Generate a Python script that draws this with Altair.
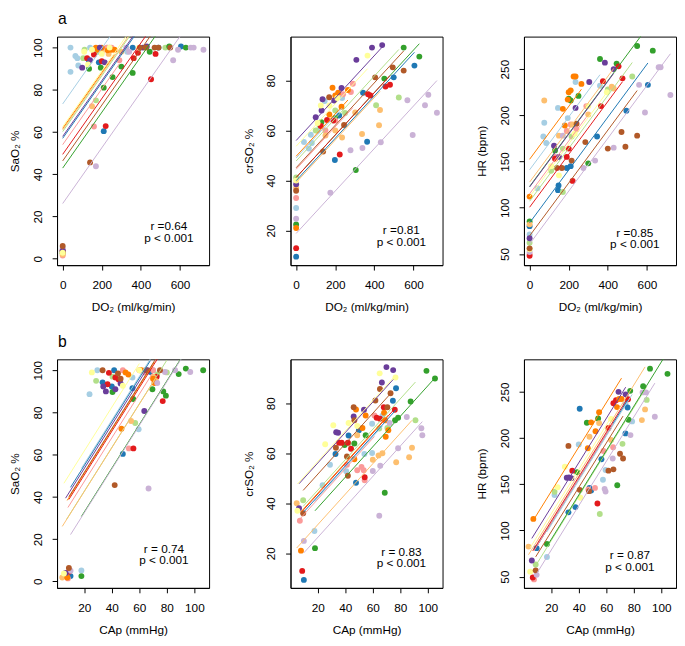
import altair as alt
import pandas as pd

SUBJECTS = [f"P{i+1}" for i in range(12)]
PALETTE = ["#a6cee3", "#1f78b4", "#b2df8a", "#33a02c", "#fb9a99", "#e31a1c",
           "#fdbf6f", "#ff7f00", "#cab2d6", "#6a3d9a", "#ffff99", "#b15928"]

FONT = "Liberation Sans"

# ---------------- data: subject index -> list of (x, y) ----------------
A1_PTS = {
    0: [(0, 5.2), (40, 100), (40, 88.5), (65, 96), (75, 95), (80, 91.5), (140, 100), (160, 99), (330, 98)],
    1: [(0, 3.5), (135, 93.5), (185, 93), (210, 60.4), (358, 100), (395, 100), (490, 100), (605, 100.5)],
    2: [(0, 3), (105, 95), (112, 99), (170, 75), (180, 98), (230, 100), (525, 100), (545, 100)],
    3: [(0, 2.5), (135, 90), (195, 90.5), (210, 81), (255, 86), (300, 91), (358, 88), (445, 98), (545, 100.5), (630, 100)],
    4: [(0, 1.5), (160, 62.6), (195, 99), (225, 100), (240, 100), (250, 100), (290, 94)],
    5: [(0, 4), (125, 95), (160, 96.7), (200, 93.5), (220, 62.8), (363, 95), (385, 97.5), (452, 85), (475, 97)],
    6: [(0, 2), (150, 72.2), (200, 98), (235, 97), (300, 98), (420, 100)],
    7: [(0, 3.2), (170, 100), (180, 99), (200, 100), (230, 98.7), (250, 99), (265, 99)],
    8: [(0, 4.5), (170, 43.8), (325, 100), (340, 98), (565, 94), (590, 99), (655, 100), (670, 100), (720, 99)],
    9: [(0, 3.8), (100, 90.5), (140, 94), (190, 100), (215, 93), (410, 100), (430, 100.5)],
    10: [(0, 2.8), (110, 98), (130, 92), (150, 99), (200, 97), (240, 100), (390, 100)],
    11: [(0, 6), (140, 45.6), (395, 100), (425, 100), (470, 100), (490, 100), (550, 100)],
}
A2_PTS = {
    0: [(0, 29), (40, 55.4), (65, 52.8), (75, 58.3), (80, 55), (110, 60), (146, 71.8), (235, 73)],
    1: [(0, 9.5), (198, 48.2), (220, 66), (342, 75.1), (363, 55.5), (499, 81.3), (605, 86)],
    2: [(0, 41.2), (100, 60), (120, 62), (200, 68), (250, 67), (409, 70.1), (525, 73.2)],
    3: [(0, 22.4), (129, 63.3), (200, 65), (305, 44.2), (451, 80.8), (550, 93.2), (630, 89.6)],
    4: [(0, 33), (150, 60), (200, 64), (240, 74.5), (280, 75.4), (290, 78.7)],
    5: [(0, 12.9), (126, 61.8), (158, 64.2), (190, 64), (223, 50.4), (368, 74.5), (380, 74), (457, 77.6), (480, 78.3)],
    6: [(0, 37), (150, 58), (200, 60), (235, 57.2), (302, 67.2), (337, 58.6), (424, 62.1), (429, 68.2)],
    7: [(0, 21), (170, 66.4), (186, 77.1), (200, 74), (215, 75.1), (232, 69.5), (265, 76.2)],
    8: [(0, 24.7), (175, 35.1), (278, 52.1), (339, 53), (433, 55.3), (569, 72.1), (596, 58.2), (659, 70.1), (676, 74.3), (720, 67.1)],
    9: [(0, 38.5), (100, 65.3), (130, 68), (135, 72.5), (195, 72), (232, 77), (308, 88.3), (388, 93.2), (440, 94.2)],
    10: [(0, 40), (110, 63), (126, 70), (170, 70), (210, 73), (365, 90)],
    11: [(0, 35.9), (138, 51.6), (169, 73.3), (245, 62.2), (404, 81.3), (494, 85.3), (550, 84)],
}
A3_PTS = {
    0: [(0, 71), (40, 121), (70, 177), (75, 192), (85, 170), (145, 208), (195, 197), (235, 236), (360, 232)],
    1: [(0, 80), (145, 119), (148, 124), (190, 143), (210, 145), (345, 177), (495, 205), (605, 233)],
    2: [(0, 62), (110, 140), (170, 117), (170, 164), (215, 177), (400, 228), (525, 242)],
    3: [(0, 85), (130, 162), (200, 218), (210, 216), (250, 221), (300, 148), (360, 261), (445, 256), (550, 275), (630, 270)],
    4: [(0, 50), (130, 155), (190, 183), (210, 190), (240, 185), (290, 210)],
    5: [(0, 48), (130, 153), (190, 155), (200, 164), (220, 129), (365, 210), (375, 237), (455, 253), (475, 240)],
    6: [(0, 82), (75, 216), (150, 178), (220, 190), (300, 201), (420, 231), (430, 229)],
    7: [(0, 112), (170, 207), (180, 189), (195, 217), (200, 225), (210, 227), (225, 242), (235, 242), (265, 234)],
    8: [(0, 52), (170, 178), (275, 143), (335, 151), (430, 165), (560, 233), (590, 203), (660, 252), (670, 252), (720, 222)],
    9: [(0, 67), (125, 167), (150, 155), (235, 208), (305, 236), (385, 257), (430, 250)],
    10: [(0, 55), (110, 145), (150, 135), (230, 180), (300, 210), (395, 225)],
    11: [(0, 56), (140, 143), (165, 143), (215, 151), (240, 191), (285, 171), (400, 164), (470, 182), (490, 166), (550, 178)],
}
B1_PTS = {
    0: [(17.9, 5.2), (23.8, 88.7), (29.5, 100), (55, 96.6), (59.5, 72.1), (70, 100)],
    1: [(10, 2.5), (33.3, 94.3), (40, 92.3), (41.7, 100), (48, 60.4), (55, 91.5), (68, 99.2)],
    2: [(7, 3), (28.6, 95), (40.5, 97), (57, 75), (73, 98), (80, 99)],
    3: [(17.9, 2.5), (40.5, 89.7), (55.5, 86.4), (69.5, 91), (77.4, 90), (79.3, 88), (88.6, 98.2), (93.8, 100.8), (106.4, 100)],
    4: [(8.1, 1.4), (48, 100), (52.4, 63), (60, 100), (64, 99), (70, 100)],
    5: [(8.8, 4.5), (36.9, 93.4), (37.9, 98.8), (42.6, 96.6), (45, 95.7), (55.7, 63), (72.6, 97), (77, 85.4)],
    6: [(4, 1.8), (54, 76), (62, 100), (70, 97), (72, 95)],
    7: [(7.6, 1.8), (47, 72.3), (50, 99), (52, 98), (61, 100), (70, 96), (71, 94)],
    8: [(10, 5), (66.7, 44), (73, 94), (78.6, 99.2), (86, 100), (97, 99.2)],
    9: [(6.4, 4), (33.8, 92.3), (35.7, 90), (42.6, 91), (46.4, 93.8), (63.6, 80.7), (66, 100)],
    10: [(5.2, 3.7), (25.5, 99), (48, 92.7), (60, 100)],
    11: [(8.8, 6.3), (33.3, 100), (42.1, 45.6), (44.5, 98.5), (46.4, 96), (65, 100), (75, 100)],
}
B2_PTS = {
    0: [(17.6, 28.9), (23.5, 47.2), (28.9, 55.4), (40.7, 52.8), (53.9, 59.7), (59.5, 60.1), (59.5, 71.8), (67, 75)],
    1: [(9.9, 9.3), (32.9, 59.7), (42.4, 67.1), (47.8, 48.2), (49.9, 69.2), (74.6, 81), (76.9, 86)],
    2: [(9.4, 41.2), (42.4, 63.9), (64.7, 69.9), (70.6, 70.1), (91, 73.2)],
    3: [(18, 22), (39.5, 63.3), (46.6, 63.9), (54.8, 67.2), (68.7, 44.2), (76.2, 73.2), (78.4, 74.2), (87.5, 80.7), (99, 93), (105.2, 89.9)],
    4: [(7, 33), (41.2, 55.4), (48.7, 53.2), (51.8, 54.5), (53.4, 53.2), (54.1, 49.2), (61.2, 75.1)],
    5: [(8.7, 12.9), (35.5, 64.2), (37.4, 64.2), (41.9, 64.2), (44.2, 61.8), (54.1, 50.4), (62.8, 74.2), (65.2, 73.8), (68, 78.4), (76, 77.4)],
    6: [(4.7, 40), (48.7, 67.2), (60, 57.4), (64.2, 59.1), (67, 60), (77, 56.4), (86.4, 58.4), (88.5, 62.2)],
    7: [(7.8, 21), (46.6, 57.6), (47.8, 77.5), (52.5, 70.1), (54.8, 75.1), (68.2, 76.2), (69, 73.2), (69.4, 66.6), (71.3, 69.2)],
    8: [(9.9, 24.9), (60, 52.9), (64.7, 35), (65.4, 55), (72.2, 72.1), (78.4, 62), (84.7, 74.5), (95.3, 70), (96, 67.2)],
    9: [(6.4, 38), (33.4, 68.4), (34.8, 68.2), (46.1, 74.7), (53.6, 77.4), (66.6, 88.3), (69.9, 94.5), (74.8, 93.3)],
    10: [(5.2, 37), (25.4, 63.6), (31.3, 71.2), (42.4, 72.1), (48.7, 70.9), (65, 92), (76.5, 90.3)],
    11: [(9.4, 36), (33.2, 62.2), (41.2, 58.7), (41.9, 51), (46.1, 78.4), (46.6, 73.2), (61.9, 81.1), (65.2, 85.7), (70.6, 78.4), (72.9, 84)],
}
B3_PTS = {
    0: [(16.9, 71.3), (22.4, 138.3), (40, 193), (57.6, 154.9), (59.5, 165.4), (74, 237), (78.8, 218)],
    1: [(9.4, 80.8), (32.5, 119.6), (37.6, 125.2), (40.7, 231.7), (47.8, 146), (49, 143.2), (56.5, 177), (74, 205), (75.5, 233)],
    2: [(8.7, 63.1), (22.4, 141.8), (55.3, 117.8), (71.8, 193.7), (89.4, 241.3)],
    3: [(16.9, 85.4), (38.8, 163), (45.9, 216.6), (54.1, 221.2), (68, 148.9), (76.2, 219.8), (77.4, 251.1), (86.8, 256.1), (91.8, 275.1), (104.5, 269.5)],
    4: [(7.5, 47), (47, 144.3), (51.8, 146), (58, 186), (65, 190)],
    5: [(6.6, 49), (35.3, 164.7), (53.6, 129.1), (61.6, 211), (65.2, 237.7), (67.1, 240.9), (75.8, 242)],
    6: [(3.5, 82.5), (47.8, 201.4), (54.8, 216.2), (63.5, 198), (85.9, 219.4), (88.2, 231)],
    7: [(7, 112.5), (46.6, 189), (49, 217), (52.2, 207.4), (54.8, 227.9), (67.8, 233.5), (69.4, 242.3), (71.1, 242.3)],
    8: [(9.4, 51.9), (58.8, 145), (59.5, 142.2), (64.7, 177.8), (77.6, 203.2), (86.4, 249.4), (88.9, 249.4), (95.3, 223)],
    9: [(5.9, 67.4), (31.3, 157), (32.9, 157.3), (34.6, 156.6), (68.9, 250), (74.1, 247.3)],
    10: [(4.7, 55.4), (24.7, 146.7), (29.9, 169), (41.2, 135.4), (63.5, 220.8)],
    11: [(8.7, 56.8), (32.5, 191.5), (40.7, 143.9), (47.5, 142.5), (61.6, 164.7), (65.2, 166.1), (70, 183), (72.2, 177.8)],
}

# per-subject intercepts and common slope of the fitted lines
A1_ICPT = [73.3, 57, 60.2, 42.9, 54, 49.4, 61, 61.7, 26.1, 57.9, 62.5, 46.3]
A1_SLOPE = 0.132
A2_ICPT = [49, 39.9, 47.8, 41.2, 44.5, 41.2, 39.2, 49.7, 18.8, 56, 53.7, 45.1]
A2_SLOPE = 0.085
A3_ICPT = [141, 83.6, 107, 123, 115, 100.5, 127.7, 152.4, 60.7, 122.4, 111.8, 69.5]
A3_SLOPE = 0.286
B1_ICPT = [35, 34.2, 22, 12.2, 26.6, 29.7, 21.9, 30.5, 11.8, 32.8, 41.1, 31]
B1_SLOPE = 1.035
B2_ICPT = [30, 30.5, 33, 26, 29.4, 31.5, 19.2, 31.8, 14.1, 43.9, 44.5, 39.4]
B2_SLOPE = 0.61
B3_ICPT = [58, 60, 41, 42.3, 60, 62, 65.3, 94.2, 30.7, 77.2, 70, 50.5]
B3_SLOPE = 2.4

DO2_TICKS = [0, 200, 400, 600]
CAP_TICKS = [20, 40, 60, 80, 100]
SAO2_TICKS = [0, 20, 40, 60, 80, 100]
CRSO2_TICKS = [20, 40, 60, 80]
HR_TICKS = [50, 100, 150, 200, 250]

DO2_DOM = [-28.8, 748.8]
CAP_DOM = [0.2, 110.7]
SAO2_DOM = [-3.1, 105.2]
CRSO2_DOM = [6.1, 97.6]
HR_DOM = [37.8, 285.2]

W, H = 155, 233


def panel(pts, icpt, slope, xdom, ydom, xticks, yticks, xtitle, ytitle,
          stats, stat_pos, label=None):
    rows = []
    lines = []
    for si, lst in pts.items():
        for x, y in lst:
            rows.append({"subject": SUBJECTS[si], "x": x, "y": y})
        xs = [p[0] for p in lst]
        for xv in (min(xs), max(xs)):
            lines.append({"subject": SUBJECTS[si], "x": xv, "y": icpt[si] + slope * xv})
    df = pd.DataFrame(rows)
    ldf = pd.DataFrame(lines)

    color = alt.Color("subject:N", scale=alt.Scale(domain=SUBJECTS, range=PALETTE), legend=None)
    xenc = alt.X("x:Q", scale=alt.Scale(domain=xdom, nice=False, zero=False),
                 axis=alt.Axis(values=xticks, title=xtitle, labelPadding=10, titlePadding=11))
    yenc = alt.Y("y:Q", scale=alt.Scale(domain=ydom, nice=False, zero=False),
                 axis=alt.Axis(values=yticks, title=ytitle, labelAngle=270, labelAlign="center",
                               labelBaseline="bottom", labelPadding=8, titlePadding=10))

    points = alt.Chart(df).mark_circle(size=36, opacity=1).encode(x=xenc, y=yenc, color=color)
    regl = alt.Chart(ldf).mark_line(strokeWidth=1, clip=True).encode(
        x=xenc, y=yenc, color=color, detail="subject:N")
    txt = alt.Chart(pd.DataFrame({"k": [0]})).mark_text(
        text=stats, font=FONT, fontSize=12, align="center", baseline="top", lineHeight=12,
        color="black").encode(x=alt.value(stat_pos[0]), y=alt.value(stat_pos[1]))
    layers = [points, regl, txt]
    if label:
        lab = alt.Chart(pd.DataFrame({"k": [0]})).mark_text(
            text=label, font=FONT, fontSize=16, align="left", baseline="alphabetic",
            color="black").encode(x=alt.value(1), y=alt.value(-13))
        layers.append(lab)
    return alt.layer(*layers).properties(width=W, height=H)


a1 = panel(A1_PTS, A1_ICPT, A1_SLOPE, DO2_DOM, SAO2_DOM, DO2_TICKS, SAO2_TICKS,
           "DO₂ (ml/kg/min)", "SaO₂ %", ["r =0.64", "p < 0.001"], (114, 188), label="a")
a2 = panel(A2_PTS, A2_ICPT, A2_SLOPE, DO2_DOM, CRSO2_DOM, DO2_TICKS, CRSO2_TICKS,
           "DO₂ (ml/kg/min)", "crSO₂ %", ["r =0.81", "p < 0.001"], (113, 192))
a3 = panel(A3_PTS, A3_ICPT, A3_SLOPE, DO2_DOM, HR_DOM, DO2_TICKS, HR_TICKS,
           "DO₂ (ml/kg/min)", "HR (bpm)", ["r =0.85", "p < 0.001"], (113, 195))
b1 = panel(B1_PTS, B1_ICPT, B1_SLOPE, CAP_DOM, SAO2_DOM, CAP_TICKS, SAO2_TICKS,
           "CAp (mmHg)", "SaO₂ %", ["r = 0.74", "p < 0.001"], (109, 188), label="b")
b2 = panel(B2_PTS, B2_ICPT, B2_SLOPE, CAP_DOM, CRSO2_DOM, CAP_TICKS, CRSO2_TICKS,
           "CAp (mmHg)", "crSO₂ %", ["r = 0.83", "p < 0.001"], (113, 191))
b3 = panel(B3_PTS, B3_ICPT, B3_SLOPE, CAP_DOM, HR_DOM, CAP_TICKS, HR_TICKS,
           "CAp (mmHg)", "HR (bpm)", ["r = 0.87", "p < 0.001"], (108, 195))

chart = alt.concat(a1, a2, a3, b1, b2, b3, columns=3,
                   spacing=alt.RowColnumber(row=96, column=83), bounds="flush").properties(
    padding={"left": 0, "top": -4, "right": 0, "bottom": 0}
).configure(
    background="white", font=FONT
).configure_view(
    stroke="black", strokeWidth=1
).configure_axis(
    grid=False, domain=True, domainColor="black", tickColor="black", tickSize=5,
    labelColor="black", titleColor="black", labelFont=FONT, titleFont=FONT,
    labelFontSize=12, titleFontSize=12, titleFontWeight="normal", labelFlush=False,
    labelOverlap=False
)

chart.save("out.html", embed_options={"renderer": "svg", "actions": False})
